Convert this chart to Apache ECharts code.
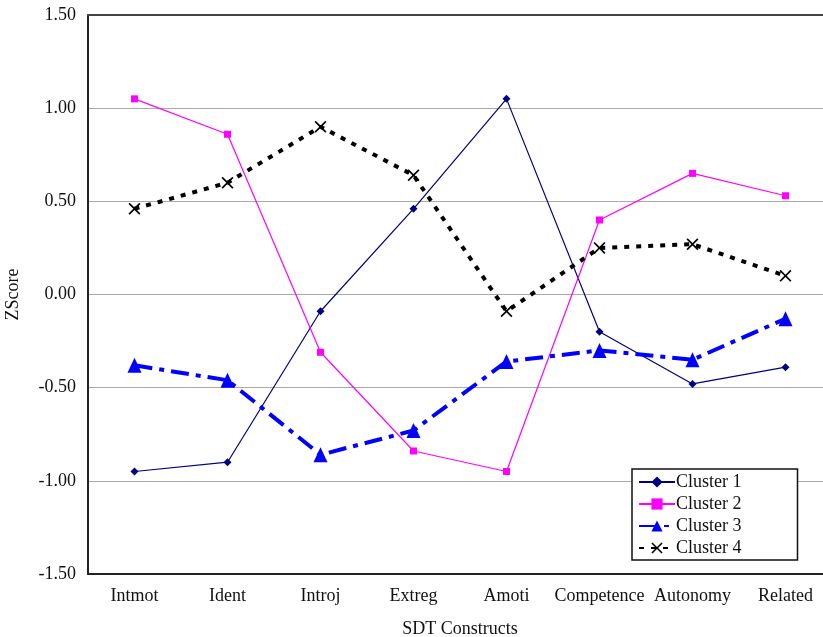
<!DOCTYPE html>
<html><head><meta charset="utf-8">
<script src="https://cdn.jsdelivr.net/npm/echarts@6/dist/echarts.min.js"></script>
<style>html,body{margin:0;padding:0;background:#fff}#c{width:823px;height:637px}</style>
</head><body><div id="c"></div>
<script>
const categories = ['Intmot','Ident','Introj','Extreg','Amoti','Competence','Autonomy','Related'];
const cluster1 = [-0.95,-0.90,-0.09,0.46,1.05,-0.20,-0.48,-0.39];
const cluster2 = [1.05,0.86,-0.31,-0.84,-0.95,0.40,0.65,0.53];
const cluster3 = [-0.38,-0.46,-0.86,-0.73,-0.36,-0.30,-0.35,-0.13];
const cluster4 = [0.46,0.60,0.90,0.64,-0.09,0.25,0.27,0.10];
const yTicks = ['-1.50','-1.00','-0.50','0.00','0.50','1.00','1.50'];

const serif = '"Liberation Serif","DejaVu Serif",serif';
const xShape = 'path://M0,1L1,0L5,4L9,0L10,1L6,5L10,9L9,10L5,6L1,10L0,9L4,5Z';
const chart = echarts.init(document.getElementById('c'));
chart.setOption({
  animation:false,
  backgroundColor:'#fff',
  grid:{left:88,top:15,width:744,height:559,containLabel:false,outerBoundsMode:'none'},
  xAxis:[{
    type:'category',data:categories,boundaryGap:true,
    name:'SDT Constructs',nameLocation:'middle',nameGap:46,
    nameTextStyle:{fontFamily:serif,fontSize:18,color:'#111'},
    axisLine:{onZero:false,lineStyle:{color:'#222',width:2}},
    axisTick:{inside:true,length:6,lineStyle:{color:'#222',width:1.5}},
    axisLabel:{interval:0,fontFamily:serif,fontSize:18,color:'#111',margin:13},
    splitLine:{show:false}
  },{
    type:'category',data:categories,position:'top',
    axisLine:{onZero:false,lineStyle:{color:'#444',width:2}},
    axisTick:{show:false},axisLabel:{show:false}
  }],
  yAxis:{
    type:'value',min:-1.5,max:1.5,interval:0.5,
    name:'ZScore',nameLocation:'middle',nameGap:66,
    nameTextStyle:{fontFamily:serif,fontSize:18,color:'#111'},
    axisLine:{show:true,onZero:false,lineStyle:{color:'#222',width:2}},
    axisTick:{show:false},
    axisLabel:{fontFamily:serif,fontSize:18,color:'#111',margin:12,
      formatter:function(v){return yTicks[Math.round((v+1.5)/0.5)];}},
    splitLine:{lineStyle:{color:'#aaa',width:1}}
  },
  legend:{
    orient:'vertical',left:632,top:469,
    backgroundColor:'#fff',borderColor:'#111',borderWidth:1.5,borderRadius:0,
    padding:[4,56,3,6],itemGap:4,itemWidth:36,itemHeight:14,
    textStyle:{fontFamily:serif,fontSize:18,color:'#111',padding:[0,0,0,-4]},
    data:['Cluster 1','Cluster 2','Cluster 3','Cluster 4']
  },
  series:[
    {name:'Cluster 1',type:'line',data:cluster1,symbol:'diamond',symbolSize:8,
     lineStyle:{color:'#000080',width:1.2},itemStyle:{color:'#000080'}},
    {name:'Cluster 2',type:'line',data:cluster2,symbol:'rect',symbolSize:7,
     lineStyle:{color:'#ff00ff',width:1.2},itemStyle:{color:'#ff00ff'}},
    {name:'Cluster 3',type:'line',data:cluster3,symbol:'triangle',symbolSize:[14,15],
     lineStyle:{color:'#0000ff',width:4,type:[18,7,5,7]},itemStyle:{color:'#0000ff'}},
    {name:'Cluster 4',type:'line',data:cluster4,symbol:xShape,symbolSize:12,
     lineStyle:{color:'#000',width:4,type:[5,7]},itemStyle:{color:'#000'}}
  ]
});
</script></body></html>
